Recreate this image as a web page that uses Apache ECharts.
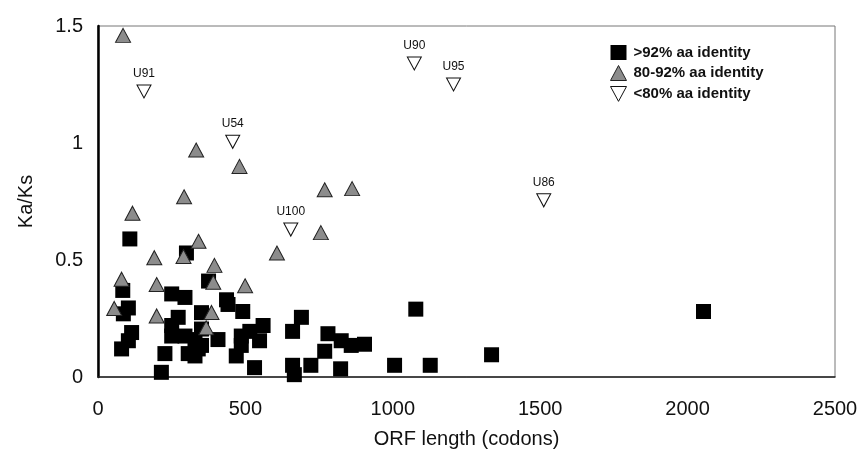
<!DOCTYPE html>
<html>
    <head>
        <meta charset="utf-8">
        <title>Ka/Ks vs ORF length</title>
        <style>html,body{margin:0;padding:0;background:#fff}#chart{width:863px;height:454px}</style>
    </head>
    <body>
        <div id="chart"></div>
        <script type="text/javascript" src="https://cdn.jsdelivr.net/npm/echarts@6/dist/echarts.min.js"></script>
        <script>
            // [ORF length (codons), Ka/Ks]
            const highIdentity = [
                [84, 0.37], [108, 0.59], [300, 0.53], [375, 0.41], [250, 0.355], [295, 0.34],
                [436, 0.33], [441, 0.31], [491, 0.28], [103, 0.295], [86, 0.27], [272, 0.255],
                [351, 0.275], [250, 0.22], [114, 0.19], [103, 0.155], [80, 0.12], [250, 0.175],
                [295, 0.175], [329, 0.16], [340, 0.12], [306, 0.1], [227, 0.1], [215, 0.02],
                [351, 0.205], [407, 0.16], [351, 0.135], [329, 0.09], [560, 0.22], [515, 0.195],
                [486, 0.175], [548, 0.155], [486, 0.135], [469, 0.09], [531, 0.04], [660, 0.195],
                [690, 0.255], [660, 0.05], [666, 0.01], [780, 0.185], [825, 0.155], [859, 0.135],
                [904, 0.14], [769, 0.11], [722, 0.05], [823, 0.035], [1006, 0.05], [1078, 0.29],
                [1127, 0.05], [1335, 0.095], [2054, 0.28]
            ];
            const midIdentity = [
                [85, 1.46], [333, 0.97], [480, 0.9], [769, 0.8], [862, 0.805], [292, 0.77],
                [117, 0.70], [607, 0.53], [341, 0.58], [290, 0.515], [191, 0.51], [395, 0.477],
                [391, 0.405], [499, 0.39], [80, 0.418], [199, 0.395], [55, 0.293], [199, 0.261],
                [385, 0.276], [367, 0.21], [756, 0.617]
            ];
            const lowIdentity = [
                [156, 1.22], [457, 1.005], [1073, 1.34], [1206, 1.25], [1512, 0.755], [654, 0.63]
            ];
            const lowNames = ['U91', 'U54', 'U90', 'U95', 'U86', 'U100'];

            const seriesNames = ['>92% aa identity', '80-92% aa identity', '<80% aa identity'];
            const xTicks = { min: 0, max: 2500, interval: 500 };
            const yTicks = { min: 0, max: 1.5, interval: 0.5 };

            const font = 'Liberation Sans, Arial, sans-serif';
            const downTriangle = 'path://M0,0 L14,0 L7,13 Z';
            const chart = echarts.init(document.getElementById('chart'));

            chart.setOption({
                animation: false,
                grid: {
                    left: 98, right: 28, top: 26, bottom: 76,
                    show: true, borderColor: '#777', borderWidth: 1
                },
                legend: {
                    orient: 'vertical',
                    left: 610, top: 45, padding: 0,
                    itemWidth: 16, itemHeight: 15, itemGap: 5,
                    data: [
                        { name: seriesNames[0], icon: 'rect', itemStyle: { borderWidth: 0 } },
                        { name: seriesNames[1], icon: 'triangle', itemStyle: { borderWidth: 1 } },
                        { name: seriesNames[2], icon: downTriangle, itemStyle: { borderWidth: 1 } }
                    ],
                    textStyle: { fontFamily: font, fontSize: 15, fontWeight: 'bold', color: '#111', padding: [0, 0, 0, 2] }
                },
                xAxis: {
                    type: 'value',
                    min: xTicks.min, max: xTicks.max, interval: xTicks.interval,
                    name: 'ORF length (codons)',
                    nameLocation: 'middle', nameGap: 52,
                    nameTextStyle: { fontFamily: font, fontSize: 20, color: '#111' },
                    axisLine: { lineStyle: { color: '#222', width: 1.5 } },
                    axisTick: { show: false },
                    splitLine: { show: false },
                    axisLabel: { fontFamily: font, fontSize: 20, color: '#111', margin: 22, formatter: v => String(v) }
                },
                yAxis: {
                    type: 'value',
                    min: yTicks.min, max: yTicks.max, interval: yTicks.interval,
                    name: 'Ka/Ks',
                    nameLocation: 'middle', nameGap: 62,
                    nameTextStyle: { fontFamily: font, fontSize: 20, color: '#111' },
                    axisLine: { show: true, lineStyle: { color: '#000', width: 2.5 } },
                    axisTick: { show: false },
                    splitLine: { show: false },
                    axisLabel: { fontFamily: font, fontSize: 20, color: '#111', margin: 15 }
                },
                series: [
                    {
                        name: seriesNames[0],
                        type: 'scatter',
                        symbol: 'rect',
                        symbolSize: 15,
                        itemStyle: { color: '#000', opacity: 1 },
                        data: highIdentity
                    },
                    {
                        name: seriesNames[1],
                        type: 'scatter',
                        symbol: 'triangle',
                        symbolSize: [15, 14],
                        itemStyle: { color: '#8c8c8c', borderColor: '#222', borderWidth: 1, opacity: 1 },
                        data: midIdentity
                    },
                    {
                        name: seriesNames[2],
                        type: 'scatter',
                        symbol: downTriangle,
                        symbolSize: [14, 13],
                        itemStyle: { color: '#fff', borderColor: '#111', borderWidth: 1, opacity: 1 },
                        label: {
                            show: true,
                            position: 'top',
                            distance: 5,
                            fontFamily: font,
                            fontSize: 12,
                            color: '#111',
                            formatter: p => lowNames[p.dataIndex]
                        },
                        data: lowIdentity
                    }
                ]
            });
        </script>
    </body>
</html>
